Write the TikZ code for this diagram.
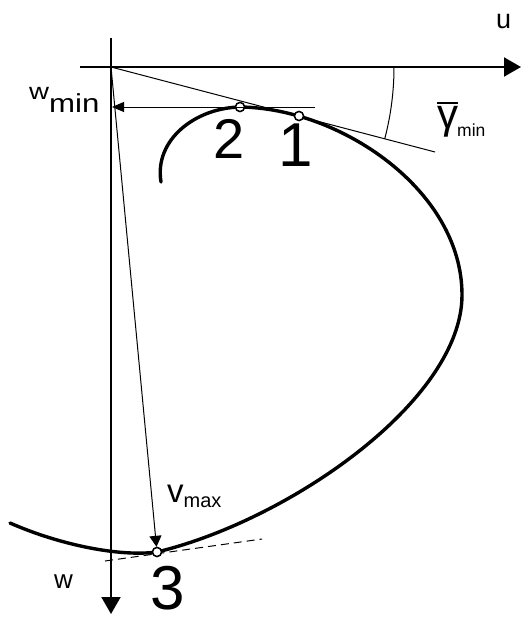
\documentclass[tikz,border=0pt]{standalone}
\usepackage{fontspec}
\setmainfont{Liberation Sans}
\usetikzlibrary{arrows.meta}
\begin{document}
\begin{tikzpicture}[x=1pt,y=-1pt,
  axis/.style={line width=2pt,-{Triangle[length=17pt,width=19pt]}},
  thinline/.style={line width=1pt},
  thinarrow/.style={line width=1pt,-{Triangle[length=12pt,width=10pt]}},
  curve/.style={line width=3.4pt,line cap=round},
  ptmark/.style={circle,draw,fill=white,line width=1.4pt,inner sep=0pt,minimum size=9pt},
  lbl/.style={inner sep=0pt,anchor=base west}]
\useasboundingbox (0,0) rectangle (521,618);
% coordinates
\coordinate (O) at (111,67);
\coordinate (HA0) at (80,67);
\coordinate (HA1) at (521,67);
\coordinate (VA0) at (111,38);
\coordinate (VA1) at (111,614);
\coordinate (T1) at (435,152);
\coordinate (WS) at (315,107);
\coordinate (WE) at (112,107);
\coordinate (D0) at (105,561);
\coordinate (D1) at (262,539);
\coordinate (CL) at (161,182);
\coordinate (CR) at (462,295);
\coordinate (CE) at (10,523);
% axes
\draw[axis] (HA0) -- (HA1);
\draw[axis] (VA0) -- (VA1);
% tangent and angle
\draw[thinline] (O) -- (T1);
\draw[thinline] (O) ++(0:283) arc[start angle=0,end angle=14.7,radius=283];
% dashed tangent at 3
\draw[thinline,dash pattern=on 8pt off 5pt] (D0) -- (D1);
% points
\node[ptmark] (P1) at (299,116) {};
\node[ptmark] (P2) at (240,107) {};
\node[ptmark] (P3) at (157,552) {};
% curve
\draw[curve] (CL) .. controls (154,140) and (195,108) .. (P2.center)
  .. controls (340,108) and (462,190) .. (CR)
  .. controls (462,400) and (290,520) .. (P3.center)
  .. controls (120,557) and (60,545) .. (CE);
\node[ptmark] at (P1) {};
\node[ptmark] at (P2) {};
\node[ptmark] at (P3) {};
% arrows
\draw[thinarrow] (WS) -- (WE);
\draw[line width=1pt,-{Triangle[length=11pt,width=12pt]}] (O) -- (P3);
% labels
\node[lbl] (lu) at (496,29) {\fontsize{27}{27}\selectfont u};
\node[lbl] (lw) at (54,588) {\fontsize{26}{26}\selectfont w};
\node[lbl] (lwmin) at (29,112) {\scalebox{1.2}[1]{{\fontsize{23}{23}\selectfont\raisebox{13pt}{w}}{\fontsize{26}{26}\selectfont min}}};
\node[lbl] (lgam) at (437,128) {\fontsize{42}{42}\selectfont\rlap{\raisebox{24pt}{\rule{21pt}{2.5pt}}}γ\kern-1pt\raisebox{-8pt}{\fontsize{17.5}{17.5}\selectfont min}};
\node[lbl] (lvmax) at (167,502) {{\fontsize{33}{33}\selectfont v}\raisebox{-5pt}{\fontsize{20}{20}\selectfont max}};
\node[lbl] (l2) at (213,158) {\fontsize{56}{56}\selectfont 2};
\node[lbl] (l1) at (278,166) {\fontsize{62}{62}\selectfont 1};
\node[lbl] (l3) at (150,609) {\fontsize{62}{62}\selectfont 3};
\end{tikzpicture}
\end{document}
